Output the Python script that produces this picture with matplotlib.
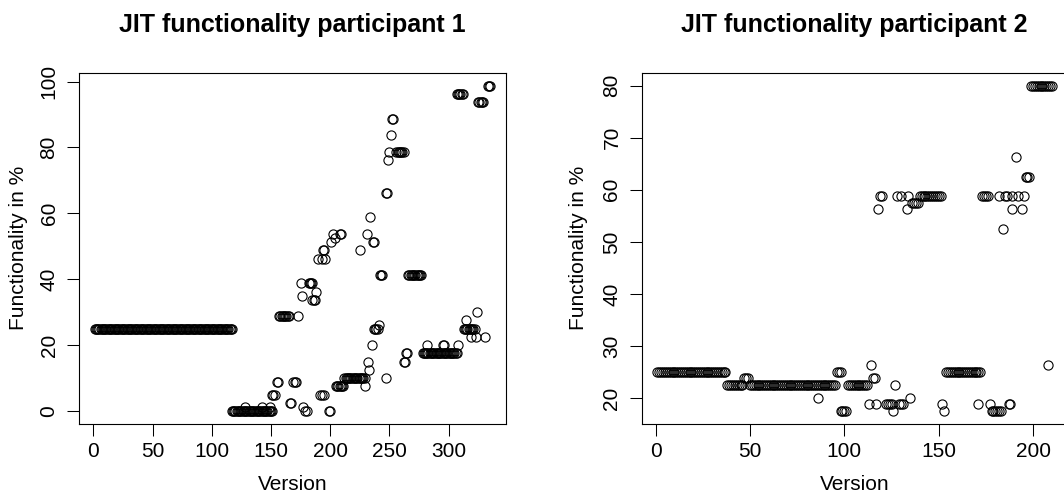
import numpy as np
import matplotlib
matplotlib.use("Agg")
import matplotlib.pyplot as plt

plt.rcParams['font.family'] = ['Liberation Sans', 'DejaVu Sans']

# runs of versions with the same functionality value: (first version, last version, value)
p1_start = [1, 117, 128, 142, 149, 151, 155, 157, 166, 169, 173, 175, 176, 177, 179,
            182, 185, 188, 190, 193, 196, 191, 193, 195, 194, 199, 201, 202, 204, 208,
            205, 212, 225, 229, 231, 232, 233, 234, 235, 236, 237, 241, 242, 247, 247,
            249, 250, 251, 252, 256, 262, 264, 266, 278, 282, 295, 308, 307, 313, 315,
            319, 323, 324, 325, 331, 333]
p1_end = [117, 151, 128, 142, 149, 153, 156, 165, 167, 171, 173, 175, 176, 177, 180,
          185, 187, 188, 190, 193, 196, 191, 193, 195, 195, 200, 201, 202, 204, 209,
          211, 229, 225, 229, 231, 232, 233, 234, 235, 237, 240, 241, 244, 247, 248,
          249, 250, 251, 253, 262, 263, 265, 277, 307, 282, 296, 308, 312, 322, 315,
          319, 323, 324, 329, 331, 335]
p1_value = [25, 0, 1.25, 1.25, 1.25, 5, 8.75, 28.75, 2.5, 8.75, 28.75, 38.75, 35, 1.25, 0,
            38.75, 33.75, 36.25, 46.25, 46.25, 46.25, 5, 5, 5, 48.75, 0, 51.25, 53.75, 52.5, 53.75,
            7.5, 10, 48.75, 7.5, 53.75, 15, 12.5, 58.75, 20, 51.25, 25, 26.25, 41.25, 10, 66.25,
            76.25, 78.75, 83.75, 88.75, 78.75, 15, 17.5, 41.25, 17.5, 20, 20, 20, 96.25, 25, 27.5,
            22.5, 22.5, 30, 93.75, 22.5, 98.75]

p2_start = [1, 38, 47, 50, 86, 96, 98, 102, 113, 114, 115, 117, 118, 119, 122, 126, 127,
            128, 129, 130, 133, 134, 135, 136, 140, 152, 153, 154, 171, 173, 177, 178, 182,
            184, 185, 187, 189, 189, 191, 192, 194, 195, 196, 199, 208]
p2_end = [37, 46, 49, 95, 86, 98, 101, 112, 113, 114, 116, 117, 118, 120, 125, 126, 127,
          128, 131, 130, 133, 134, 135, 139, 151, 152, 153, 172, 171, 176, 177, 183, 182,
          184, 186, 188, 189, 189, 191, 192, 194, 195, 198, 210, 208]
p2_value = [25, 22.5, 23.75, 22.5, 20, 25, 17.5, 22.5, 18.75, 26.25, 23.75, 18.75, 56.25,
            58.75, 18.75, 17.5, 22.5, 58.75, 18.75, 58.75, 56.25, 58.75, 20, 57.5, 58.75,
            18.75, 17.5, 25, 18.75, 58.75, 18.75, 17.5, 58.75, 52.5, 58.75, 18.75, 56.25,
            58.75, 66.25, 58.75, 56.25, 58.75, 62.5, 80, 26.25]


def expand(starts, ends, values):
    xs, ys = [], []
    for s, e, v in zip(starts, ends, values):
        for k in range(s, e + 1):
            xs.append(k)
            ys.append(v)
    return np.array(xs), np.array(ys)


x1, y1 = expand(p1_start, p1_end, p1_value)
x2, y2 = expand(p2_start, p2_end, p2_value)

fig = plt.figure(figsize=(10.64, 4.98), dpi=100)
ax1 = fig.add_axes([78.8 / 1064, 74 / 498, 427 / 1064, 351.3 / 498])
ax2 = fig.add_axes([641.7 / 1064, 74 / 498, 426 / 1064, 351.3 / 498])

panels = [
    (ax1, x1, y1, "JIT functionality participant 1", np.arange(0, 301, 50), np.arange(0, 101, 20)),
    (ax2, x2, y2, "JIT functionality participant 2", np.arange(0, 201, 50), np.arange(20, 81, 10)),
]

for ax, x, y, title, xt, yt in panels:
    ax.plot(x, y, 'o', mfc='none', mec='black', ms=6.6, mew=0.8, linestyle='none')
    ax.margins(0.04)
    ax.set_xticks(xt)
    ax.set_yticks(yt)
    ax.tick_params(length=8.6, width=0.75, labelsize=15, color='black')
    ax.tick_params(axis='x', pad=4.5)
    ax.tick_params(axis='y', labelrotation=90, pad=6)
    for lab in ax.get_yticklabels():
        lab.set_va('center')
    for sp in ax.spines.values():
        sp.set_linewidth(0.8)
        sp.set_color('black')
    ax.set_title(title, fontsize=18, fontweight='bold', pad=29)
    ax.set_xlabel("Version", fontsize=15, va='center')
    ax.set_ylabel("Functionality in %", fontsize=15, va='center')
    ax.xaxis.set_label_coords(0.5, (424 - 484) / 351.3)

ax1.yaxis.set_label_coords((18 - 78.8) / 427, 0.5)
ax2.yaxis.set_label_coords((578 - 641.7) / 426, 0.5)

fig.savefig("out.png", dpi=100)
